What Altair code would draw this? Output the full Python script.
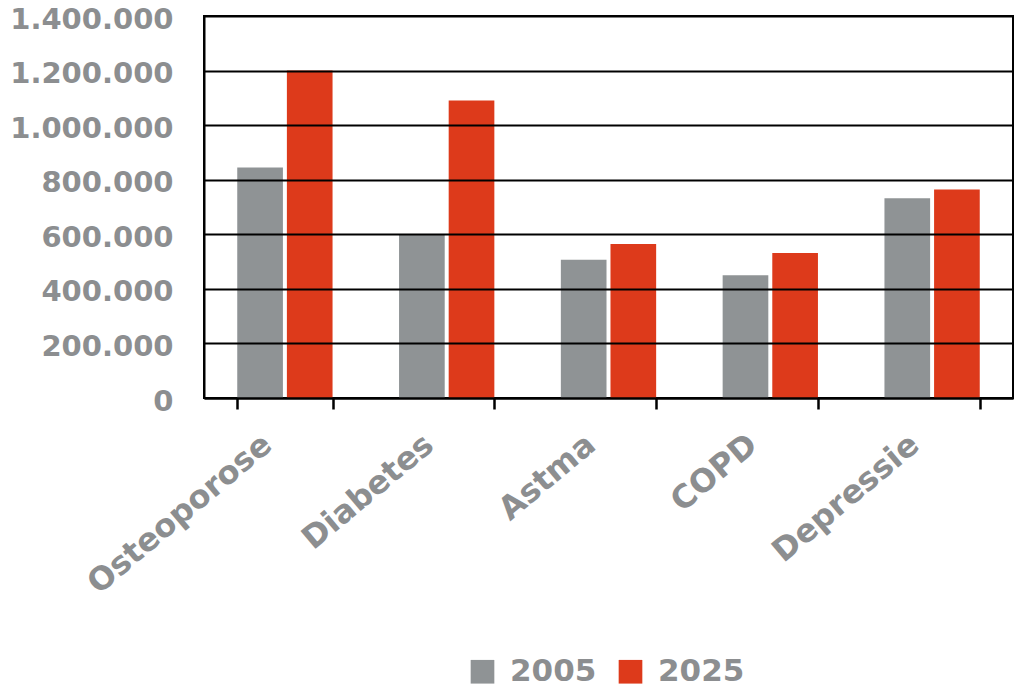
import altair as alt
import pandas as pd

categories = ["Osteoporose", "Diabetes", "Astma", "COPD", "Depressie"]
years = ["2005", "2025"]
values_2005 = [845000, 600000, 507000, 450000, 732000]
values_2025 = [1200000, 1090000, 564000, 531000, 764000]
y_ticks = [0, 200000, 400000, 600000, 800000, 1000000, 1200000, 1400000]

rows = []
for c, a, b in zip(categories, values_2005, values_2025):
    rows.append({"cat": c, "year": "2005", "value": a})
    rows.append({"cat": c, "year": "2025", "value": b})
df = pd.DataFrame(rows)

GRAY = "#8F9395"
RED = "#DD3A1B"
LABEL = "#8C8E90"
FONT = "DejaVu Sans"

chart = alt.Chart(df).mark_bar().encode(
    x=alt.X(
        "cat:N",
        sort=categories,
        scale=alt.Scale(paddingInner=0.411, paddingOuter=0.2055),
        axis=alt.Axis(
            title=None,
            labelAngle=-40,
            labelAlign="right",
            labelBaseline="middle",
            labelFont=FONT,
            labelFontWeight="bold",
            labelFontSize=32,
            labelColor=LABEL,
            labelPadding=31,
            labelOffset=-18,
            labelLimit=0,
            labelOverlap=False,
            tickBand="extent",
            tickSize=11,
            tickWidth=2.5,
            tickColor="black",
            domainColor="black",
            domainWidth=2,
            zindex=1,
        ),
    ),
    xOffset=alt.XOffset("year:N", sort=years, scale=alt.Scale(paddingInner=0.08, paddingOuter=0)),
    y=alt.Y(
        "value:Q",
        scale=alt.Scale(domain=[0, 1400000], nice=False),
        axis=alt.Axis(
            title=None,
            values=y_ticks,
            labelExpr="replace(format(datum.value, ','), regexp(',', 'g'), '.')",
            labelFont=FONT,
            labelFontWeight="bold",
            labelFontSize=29,
            labelColor=LABEL,
            labelPadding=31,
            labelOffset=3,
            labelLimit=0,
            ticks=False,
            grid=True,
            gridColor="black",
            gridWidth=2,
            gridOpacity=1,
            domainColor="black",
            domainWidth=2,
            zindex=1,
        ),
    ),
    color=alt.Color(
        "year:N",
        scale=alt.Scale(domain=years, range=[GRAY, RED]),
        legend=alt.Legend(
            title=None,
            orient="none",
            direction="horizontal",
            legendX=263,
            legendY=640,
            symbolType="square",
            symbolSize=560,
            symbolStrokeWidth=0,
            symbolOpacity=1,
            labelFont=FONT,
            labelFontWeight="bold",
            labelFontSize=31,
            labelColor=LABEL,
            labelOffset=12,
            columnPadding=18,
            padding=0,
        ),
    ),
).properties(
    width=809,
    height=382,
    autosize=alt.AutoSizeParams(type="none"),
    padding={"left": 196, "top": 8, "right": 2, "bottom": 294},
).configure_view(
    stroke="black",
    strokeWidth=2,
)

chart.save("out.html", embed_options={"renderer": "svg", "actions": False})
